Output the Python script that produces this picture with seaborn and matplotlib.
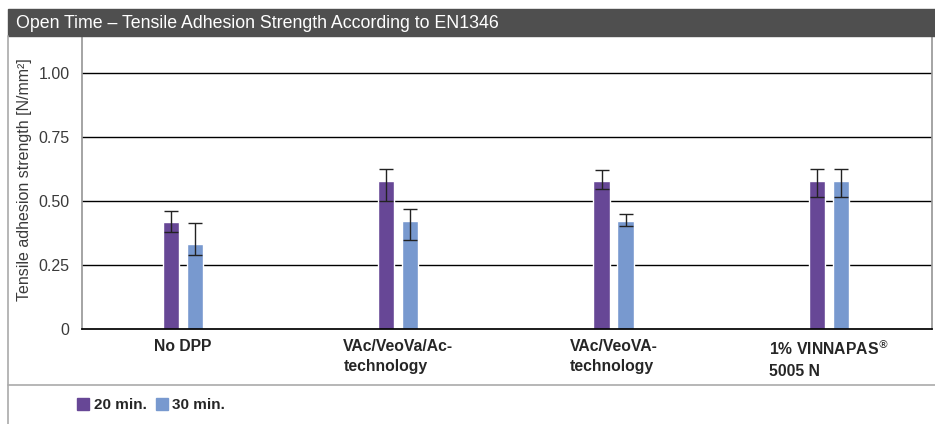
import matplotlib
matplotlib.use("Agg")
import matplotlib.pyplot as plt
import numpy as np
import pandas as pd
import seaborn as sns
from matplotlib.patches import Rectangle
from matplotlib.lines import Line2D

sns.set_theme(style="white")
plt.rcParams["font.family"] = ["Liberation Sans", "DejaVu Sans"]

categories = ["No DPP", "VAc/VeoVa/Ac-\ntechnology", "VAc/VeoVA-\ntechnology", "1% VINNAPAS$^{®}$\n5005 N"]
series = ["20 min.", "30 min."]
values_20 = [0.418, 0.578, 0.578, 0.578]
values_30 = [0.332, 0.422, 0.422, 0.578]
err_lo_20 = [0.040, 0.078, 0.031, 0.062]
err_hi_20 = [0.045, 0.046, 0.043, 0.046]
err_lo_30 = [0.042, 0.076, 0.020, 0.062]
err_hi_30 = [0.083, 0.048, 0.026, 0.046]
yticks = [0, 0.25, 0.50, 0.75, 1.00]
ytick_labels = ["0", "0.25", "0.50", "0.75", "1.00"]

colors = ["#674796", "#7899cf"]

df = pd.DataFrame({
    "category": categories * 2,
    "series": [series[0]] * 4 + [series[1]] * 4,
    "value": values_20 + values_30,
})

fig = plt.figure(figsize=(9.35, 4.24), dpi=100)
ax = fig.add_axes([82 / 935, 95 / 424, 850 / 935, 293 / 424])

sns.barplot(data=df, x="category", y="value", hue="series", palette=colors,
            width=0.223, gap=0.33, errorbar=None, legend=False, ax=ax, saturation=1)

# custom error bars at the bar centres
errs = [(err_lo_20, err_hi_20), (err_lo_30, err_hi_30)]
vals = [values_20, values_30]
bar_containers = list(ax.containers)
for k, container in enumerate(bar_containers):
    xs = [p.get_x() + p.get_width() / 2 for p in container.patches]
    ax.errorbar(xs, vals[k], yerr=[errs[k][0], errs[k][1]], fmt="none",
                ecolor="#222222", elinewidth=1, capsize=5, capthick=1)

ax.set_xlim(-0.47, 3.48)
ax.set_ylim(0, 1.145)
ax.set_yticks(yticks)
ax.set_yticklabels(ytick_labels, color="#3a3a3a", fontsize=11.5)
for y in yticks[1:]:
    ax.axhline(y, color="black", linewidth=1, zorder=0)
ax.set_xlabel("")
ax.set_ylabel("Tensile adhesion strength [N/mm²]", color="#3a3a3a", fontsize=11.5)
ax.yaxis.set_label_coords(-0.059, 0.51)
ax.set_xticks(range(len(categories)))
ax.set_xticklabels(categories, fontsize=11.3, fontweight="bold", multialignment="left",
                   linespacing=1.45)
ax.tick_params(axis="x", length=0, pad=7)
ax.tick_params(axis="y", length=0, pad=9)
ax.spines["top"].set_visible(False)
ax.spines["bottom"].set_color("black")
ax.spines["left"].set_color("#999999")
ax.spines["right"].set_color("#999999")

# title bar
fig.patches.append(Rectangle((8 / 935, 388 / 424), 1 - 8 / 935, 27 / 424,
                             transform=fig.transFigure, color="#4f4f4f", zorder=0))
fig.text(16 / 935, 401 / 424, "Open Time – Tensile Adhesion Strength According to EN1346",
         color="white", fontsize=12.8, va="center", ha="left")

# frame lines
fig.add_artist(Line2D([8 / 935, 8 / 935], [0, 388 / 424], transform=fig.transFigure,
                      color="#aaaaaa", linewidth=1.2))
fig.add_artist(Line2D([8 / 935, 1], [39 / 424, 39 / 424], transform=fig.transFigure,
                      color="#aaaaaa", linewidth=1.2))

handles = [Rectangle((0, 0), 1, 1, color=c) for c in colors]
leg = fig.legend(handles, series, loc="center left", bbox_to_anchor=(63 / 935, 19 / 424),
                 ncol=2, frameon=False, handlelength=0.8, handleheight=0.8,
                 handletextpad=0.3, columnspacing=0.6, prop={"weight": "bold", "size": 11})

fig.savefig("out.png", dpi=100)
